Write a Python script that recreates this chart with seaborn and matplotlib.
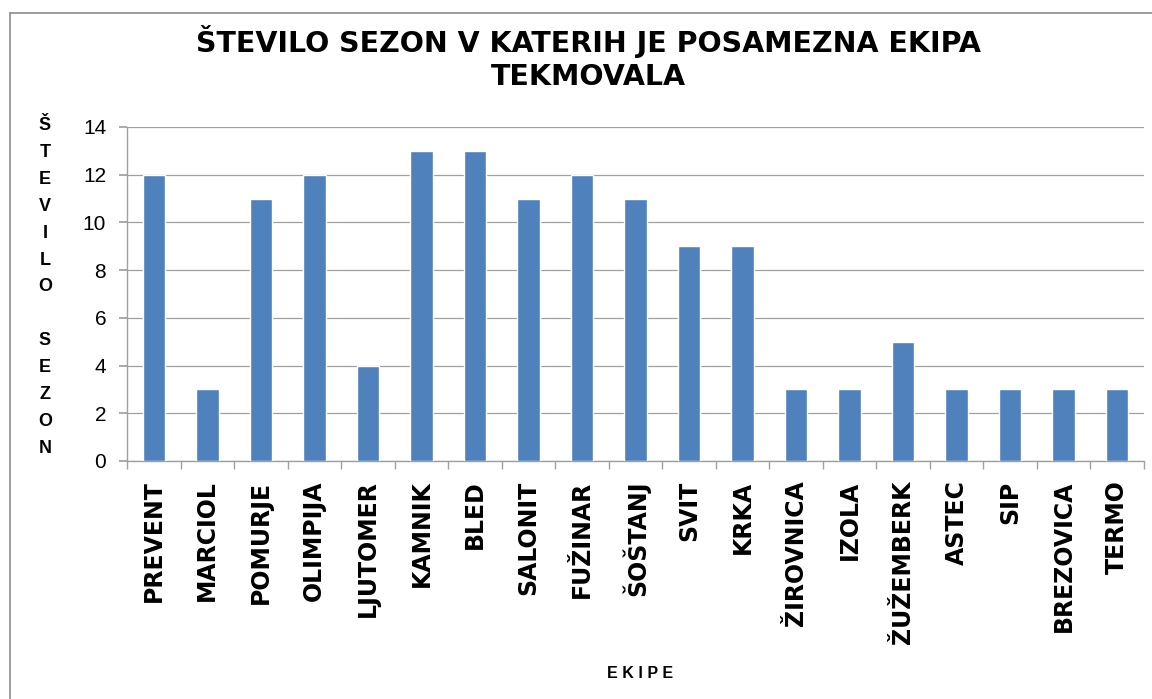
import matplotlib
matplotlib.use("Agg")
import matplotlib.pyplot as plt
import seaborn as sns
import pandas as pd
from matplotlib.lines import Line2D

teams = ["PREVENT", "MARCIOL", "POMURJE", "OLIMPIJA", "LJUTOMER", "KAMNIK", "BLED",
         "SALONIT", "FUŽINAR", "ŠOŠTANJ", "SVIT", "KRKA", "ŽIROVNICA", "IZOLA",
         "ŽUŽEMBERK", "ASTEC", "SIP", "BREZOVICA", "TERMO"]
seasons = [12, 3, 11, 12, 4, 13, 13, 11, 12, 11, 9, 9, 3, 3, 5, 3, 3, 3, 3]
yticks = [0, 2, 4, 6, 8, 10, 12, 14]

title = "ŠTEVILO SEZON V KATERIH JE POSAMEZNA EKIPA\nTEKMOVALA"
ylabel = "Š\nT\nE\nV\nI\nL\nO\n\nS\nE\nZ\nO\nN"
xlabel = "E K I P E"

sns.set_theme(style="white")
plt.rcParams['font.family'] = ['Liberation Sans', 'DejaVu Sans']
plt.rcParams['text.color'] = 'black'
plt.rcParams['xtick.labelcolor'] = 'black'
plt.rcParams['ytick.labelcolor'] = 'black'

df = pd.DataFrame({"team": teams, "seasons": seasons})

fig = plt.figure(figsize=(11.52, 6.99), dpi=100)
ax = fig.add_axes([127/1152, 1 - 461/699, (1144 - 127)/1152, (461 - 127)/699])

sns.barplot(data=df, x="team", y="seasons", color="#4F81BD", saturation=1,
            width=0.42, ax=ax, zorder=3)

ax.set_ylim(0, 14)
ax.set_xlim(-0.5, len(teams) - 0.5)
ax.set_yticks(yticks)
ax.set_yticklabels([str(v) for v in yticks], fontsize=15, color="black")
ax.yaxis.grid(True, color="#A0A0A0", linewidth=0.9, zorder=0)
ax.xaxis.grid(False)

for s in ["top", "right"]:
    ax.spines[s].set_visible(False)
for s in ["left", "bottom"]:
    ax.spines[s].set_color("#A0A0A0")
    ax.spines[s].set_linewidth(1.0)

ax.tick_params(axis="y", which="major", left=True, length=6, color="#A0A0A0", pad=9)
ax.set_xticks(range(len(teams)))
ax.set_xticklabels(teams, rotation=90, fontsize=17, fontweight="bold",
                   family=["DejaVu Sans"], color="black")
ax.tick_params(axis="x", which="major", bottom=False, pad=8)
ax.set_xticks([i - 0.5 for i in range(len(teams) + 1)], minor=True)
ax.tick_params(axis="x", which="minor", bottom=True, length=6, color="#A0A0A0", width=1.0)

ax.set_xlabel("")
ax.set_ylabel("")

fig.text(588/1152, 1 - 58/699, title, ha="center", va="center", color="black",
         fontsize=20.5, fontweight="bold", linespacing=1.2, family=["DejaVu Sans"])
fig.text(45/1152, 1 - 287/699, ylabel, ha="center", va="center", color="black",
         fontsize=13, fontweight="bold", linespacing=1.76)
fig.text(640/1152, 1 - 673/699, xlabel, ha="center", va="center", color="black",
         fontsize=11.5, fontweight="bold")

# outer chart border (left and top visible)
fig.add_artist(Line2D([10/1152, 10/1152], [0, 1 - 13/699], transform=fig.transFigure,
                      color="#8C8C8C", linewidth=1.2))
fig.add_artist(Line2D([10/1152, 1], [1 - 13/699, 1 - 13/699], transform=fig.transFigure,
                      color="#8C8C8C", linewidth=1.2))

fig.savefig("out.png", dpi=100, facecolor="white")
